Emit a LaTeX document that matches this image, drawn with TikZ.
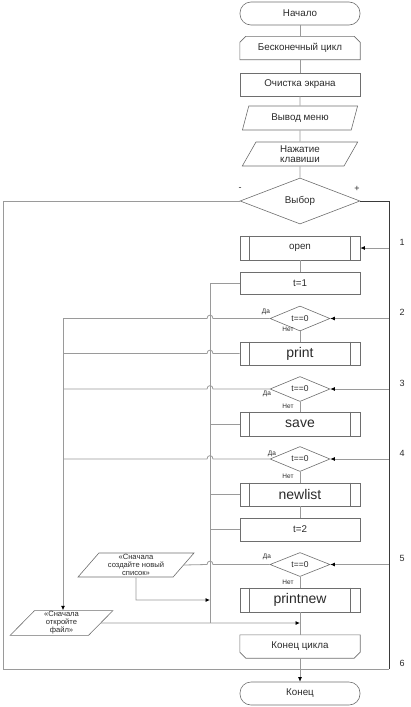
\documentclass[tikz,border=0pt]{standalone}
\usepackage{fontspec}
\setmainfont{Liberation Sans}
\usetikzlibrary{shapes.geometric,arrows.meta,calc}
\definecolor{boxc}{HTML}{6E6E6E}
\definecolor{linec}{HTML}{9A9A9A}
\definecolor{darkline}{HTML}{3A3A3A}
\definecolor{txt}{HTML}{2A2A2A}
\begin{document}
\begin{tikzpicture}[x=1pt,y=-1pt,
  every node/.style={text=txt},
  box/.style={draw=boxc, line width=0.6pt, minimum width=120pt, minimum height=23pt, inner sep=1pt, font=\fontsize{9.8}{11}\selectfont, align=center},
  term/.style={box, rounded corners=11pt},
  bare/.style={minimum width=120pt, minimum height=23pt, inner sep=1pt, font=\fontsize{9.8}{11}\selectfont, align=center},
  bigtxt/.style={font=\fontsize{14}{15}\selectfont},
  io/.style={trapezium, trapezium stretches=true, draw=boxc, line width=0.6pt, inner sep=1pt, align=center},
  dec/.style={diamond, draw=boxc, line width=0.6pt, aspect=2.4, inner sep=0pt, font=\fontsize{8.5}{9}\selectfont},
  ln/.style={draw=linec, line width=0.8pt},
  dln/.style={draw=darkline, line width=0.8pt},
  arr/.style={-{Latex[length=4.5pt,width=4pt,color=black]}},
  yn/.style={font=\fontsize{6.5}{7}\selectfont, inner sep=0pt},
  num/.style={font=\fontsize{9}{10}\selectfont, inner sep=0pt}
]
\useasboundingbox (0,0) rectangle (411,707);

% main column
\node[term] (start) at (300,13.5) {Начало};
\node[bare] (loop) at (300,48) {Бесконечный цикл};
\draw[boxc, line width=0.6pt] (loop.south west) -- ($(loop.north west)+(0,6)$) -- ($(loop.north west)+(6,0)$) -- ($(loop.north east)+(-6,0)$) -- ($(loop.north east)+(0,6)$) -- (loop.south east) -- cycle;
\node[box] (cls) at (300,84.5) {Очистка экрана};
\node[io, trapezium left angle=71, trapezium right angle=109, minimum width=116pt, minimum height=24pt, font=\fontsize{9.8}{11}\selectfont] (menu) at (300,118) {Вывод меню};
\node[io, trapezium left angle=71, trapezium right angle=109, minimum width=116pt, minimum height=24pt, font=\fontsize{9.8}{11}\selectfont] (key) at (300,154) {Нажатие\\[-1pt]клавиши};
\node[dec, minimum width=120pt, minimum height=46pt, font=\fontsize{9.8}{11}\selectfont] (choice) at (300,201) {Выбор};

\node[box, minimum height=24pt] (open) at (300,248) {open};
\node[box, minimum height=22pt] (t1) at (300,283) {t=1};
\node[dec, minimum width=60pt, minimum height=25pt] (d1) at (300,318.5) {t==0};
\node[box, bigtxt] (print) at (300,353.5) {print};
\node[dec, minimum width=60pt, minimum height=25pt] (d2) at (300,389) {t==0};
\node[box, bigtxt, minimum height=24pt] (save) at (300,424) {save};
\node[dec, minimum width=60pt, minimum height=25pt] (d3) at (300,459) {t==0};
\node[box, bigtxt] (newlist) at (300,494.5) {newlist};
\node[box] (t2) at (300,529.5) {t=2};
\node[dec, minimum width=60pt, minimum height=24pt] (d4) at (300,564.5) {t==0};
\node[box, bigtxt, minimum height=24pt] (printnew) at (300,600) {printnew};
\node[bare] (lend) at (300,646.5) {Конец цикла};
\draw[boxc, line width=0.6pt] (lend.north west) -- ($(lend.south west)+(0,-6)$) -- ($(lend.south west)+(6,0)$) -- ($(lend.south east)+(-6,0)$) -- ($(lend.south east)+(0,-6)$) -- (lend.north east) -- cycle;
\node[term] (end) at (300,693.5) {Конец};

% predefined-process side bars
\foreach \n in {open,print,save,newlist,printnew}{
  \draw[boxc, line width=0.6pt] ([xshift=10pt]\n.north west) -- ([xshift=10pt]\n.south west);
  \draw[boxc, line width=0.6pt] ([xshift=-10pt]\n.north east) -- ([xshift=-10pt]\n.south east);
}

% messages
\node[io, trapezium left angle=55, trapezium right angle=125, minimum width=116pt, minimum height=24pt, font=\fontsize{7.6}{8}\selectfont] (msg2) at (136,565) {«Сначала\\создайте новый\\список»};
\node[io, trapezium left angle=56, trapezium right angle=124, minimum width=103pt, minimum height=23pt, font=\fontsize{7.6}{8}\selectfont] (msg1) at (61.5,623) {«Сначала\\откройте\\файл»};

% main vertical links
\draw[ln] (start) -- (loop);
\draw[ln] (loop) -- (cls);
\draw[ln] (cls) -- (menu);
\draw[ln] (menu) -- (key);
\draw[ln] (key) -- (choice);
\draw[ln] (open) -- (t1);
\draw[ln] (d1) -- (print);
\draw[ln] (d2) -- (save);
\draw[ln] (d3) -- (newlist);
\draw[ln] (newlist) -- (t2);
\draw[ln] (d4) -- (printnew);
\draw[ln] (printnew) -- (lend);
\draw[ln, arr] (lend) -- (end);

% outer loop frame
\coordinate (L1) at (3,201);
\coordinate (L2) at (3,669);
\coordinate (R1) at (389,201);
\coordinate (R2) at (389,669);
\draw[ln] (choice.west) -- (L1) -- (L2) -- (R2);
\draw[dln] (choice.east) -- (R1) -- (R2);
\node[num] (minus) at (240,189) {-};
\node[num] (plus) at (357,189) {+};

% branches from right line
\coordinate (r1) at (389,248);
\coordinate (r2) at (389,318.5);
\coordinate (r3) at (389,389);
\coordinate (r4) at (389,459);
\coordinate (r5) at (389,564.5);
\draw[ln, arr] (r1) -- (open.east);
\draw[ln, arr] (r2) -- (d1.east);
\draw[ln, arr] (r3) -- (d2.east);
\draw[ln, arr] (r4) -- (d3.east);
\draw[ln, arr] (r5) -- (d4.east);
\node[num] (n1) at (402,242) {1};
\node[num] (n2) at (402,312.5) {2};
\node[num] (n3) at (402,383) {3};
\node[num] (n4) at (402,453) {4};
\node[num] (n5) at (402,558.5) {5};
\node[num] (n6) at (402,663) {6};

% bus x=210
\coordinate (b1) at (210,283);
\coordinate (b2) at (210,623);
\coordinate (j) at (300,623);
\draw[ln] (t1.west) -- (b1) -- (b2);
\draw[ln] (save.west) -- (save.west -| b1);
\draw[ln] (newlist.west) -- (newlist.west -| b1);
\draw[ln] (t2.west) -- (t2.west -| b1);

% bus x=63
\coordinate (a1) at (63,318.5);
\coordinate (a2) at (63,353.5);
\coordinate (a3) at (63,389);
\coordinate (a4) at (63,459);
\foreach \s/\e/\yy in {d1.west/a1/318.5, print.west/a2/353.5, d2.west/a3/389, d3.west/a4/459}{
  \draw[ln] (\s) -- (213,\yy) .. controls (213,\yy-4.5) and (207,\yy-4.5) .. (207,\yy) -- (\e);
}
\draw[ln, arr] (a1) -- (msg1.north -| a1);

% msg2 links
\draw[ln] (d4.west) -- (213,564.5) .. controls (213,560) and (207,560) .. (207,564.5) -- (msg2.east);
\coordinate (m2) at (136,600);
\draw[ln, arr] (msg2.south) -- (m2) -- (m2 -| b1);

% msg1 link
\draw[ln, arr] (msg1.east) -- (j);

% yes/no labels
\node[yn] (y1) at (266,312) {Да};
\node[yn] (no1) at (288,329.5) {Нет};
\node[yn] (y2) at (267,394) {Да};
\node[yn] (no2) at (288,406) {Нет};
\node[yn] (y3) at (272,453.5) {Да};
\node[yn] (no3) at (288,476) {Нет};
\node[yn] (y4) at (267,556.5) {Да};
\node[yn] (no4) at (288,582) {Нет};
\end{tikzpicture}
\end{document}
